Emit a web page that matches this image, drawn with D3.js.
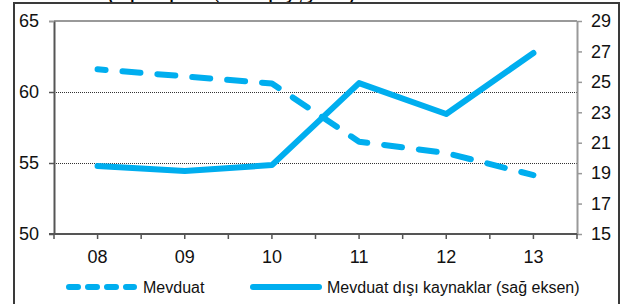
<!DOCTYPE html>
<html>
<head>
<meta charset="utf-8">
<script src="https://cdn.jsdelivr.net/npm/d3@7"></script>
<style>
  body { margin: 0; background: #fff; }
  svg { display: block; font-family: "Liberation Sans", Arial, sans-serif; }
</style>
</head>
<body>
<div id="chart"></div>
<script>
// data
const years = ["08", "09", "10", "11", "12", "13"];
const mevduat = [61.6, 61.1, 60.6, 56.5, 55.7, 54.15];       // left axis
const disiKaynak = [19.47, 19.14, 19.53, 24.92, 22.89, 26.9]; // right axis
const leftTicks = [50, 55, 60, 65];
const rightTicks = [15, 17, 19, 21, 23, 25, 27, 29];
const gridVals = [55, 60];

const W = 630, H = 304;
const blue = "#00aeef";
const plot = { left: 54, right: 577, top: 21, bottom: 234 };

const svg = d3.select("#chart").append("svg")
  .attr("width", W)
  .attr("height", H);

// title, mostly cut off above the frame
svg.append("text")
  .attr("x", 108)
  .attr("y", 0)
  .style("font-size", "15px")
  .style("font-weight", "bold")
  .text("(Toplam pasif içindeki payı, yüzde)");

// outer frame
svg.append("rect")
  .attr("x", 14)
  .attr("y", 3)
  .attr("width", 605)
  .attr("height", 330)
  .attr("fill", "none")
  .attr("stroke", "#3a3a3a")
  .attr("stroke-width", 2);

const x = d3.scaleBand().domain(years).range([plot.left, plot.right]);
const yL = d3.scaleLinear().domain([50, 65]).range([plot.bottom, plot.top]);
const yR = d3.scaleLinear().domain([15, 29]).range([plot.bottom, plot.top]);

// dotted gridlines
svg.append("g")
  .selectAll("line")
  .data(gridVals)
  .enter()
  .append("line")
  .attr("x1", plot.left)
  .attr("x2", plot.right)
  .attr("y1", d => yL(d) + 0.5)
  .attr("y2", d => yL(d) + 0.5)
  .attr("stroke", "#333")
  .attr("stroke-width", 1)
  .attr("stroke-dasharray", "1,1");

// top line at 65
svg.append("line")
  .attr("x1", plot.left)
  .attr("x2", plot.right)
  .attr("y1", yL(65))
  .attr("y2", yL(65))
  .attr("stroke", "#999")
  .attr("stroke-width", 2);

// left axis
const gL = svg.append("g")
  .attr("transform", "translate(" + plot.left + ",0)")
  .call(d3.axisLeft(yL).tickValues(leftTicks).tickSize(5).tickSizeOuter(0).tickPadding(10));
gL.select(".domain").attr("stroke", "#555").attr("stroke-width", 2);
gL.selectAll(".tick line").attr("stroke", d => d === 65 ? "#999" : "#555").attr("stroke-width", d => d === 65 ? 2 : 1.5);
gL.selectAll(".tick text")
  .style("font-size", "18px")
  .style("font-family", "Liberation Sans, Arial, sans-serif")
  .attr("fill", "#111");

// right axis
const gR = svg.append("g")
  .attr("transform", "translate(" + plot.right + ",0)")
  .call(d3.axisRight(yR).tickValues(rightTicks).tickSize(5).tickSizeOuter(0).tickPadding(9));
gR.select(".domain").attr("stroke", "#999").attr("stroke-width", 2);
gR.selectAll(".tick line").attr("stroke", "#999").attr("stroke-width", 1.5);
gR.selectAll(".tick text")
  .style("font-size", "18px")
  .style("font-family", "Liberation Sans, Arial, sans-serif")
  .attr("fill", "#111");

// bottom axis: labels in band centers
const gB = svg.append("g")
  .attr("transform", "translate(0," + plot.bottom + ")")
  .call(d3.axisBottom(x).tickSize(0).tickPadding(16));
gB.select(".domain").remove();
gB.selectAll(".tick text")
  .style("font-size", "18px")
  .style("font-family", "Liberation Sans, Arial, sans-serif")
  .attr("fill", "#111");

// small ticks on band edges and band centers
const half = x.bandwidth() / 2;
const tickXs = [];
years.forEach(d => { tickXs.push(x(d)); tickXs.push(x(d) + half); });
tickXs.push(plot.right);
svg.append("g")
  .selectAll("line")
  .data(tickXs)
  .enter()
  .append("line")
  .attr("x1", d => d)
  .attr("x2", d => d)
  .attr("y1", plot.bottom)
  .attr("y2", plot.bottom + 5)
  .attr("stroke", "#555")
  .attr("stroke-width", 1.5);

svg.append("line")
  .attr("x1", plot.left - 5)
  .attr("x2", plot.right)
  .attr("y1", plot.bottom)
  .attr("y2", plot.bottom)
  .attr("stroke", "#555")
  .attr("stroke-width", 2);

const cx = d => x(d) + half;

// Mevduat (dashed, left axis)
svg.append("path")
  .datum(years)
  .attr("fill", "none")
  .attr("stroke", blue)
  .attr("stroke-width", 6)
  .attr("stroke-linecap", "round")
  .attr("stroke-linejoin", "round")
  .attr("stroke-dasharray", "18,17")
  .attr("stroke-dashoffset", 10)
  .attr("d", d3.line()
    .x(d => cx(d))
    .y((d, i) => yL(mevduat[i])));

// Mevduat dışı kaynaklar (solid, right axis)
svg.append("path")
  .datum(years)
  .attr("fill", "none")
  .attr("stroke", blue)
  .attr("stroke-width", 6)
  .attr("stroke-linecap", "round")
  .attr("stroke-linejoin", "round")
  .attr("d", d3.line()
    .x(d => cx(d))
    .y((d, i) => yR(disiKaynak[i])));

// legend
const legY = 287;
svg.append("line")
  .attr("x1", 69).attr("x2", 134)
  .attr("y1", legY).attr("y2", legY)
  .attr("stroke", blue)
  .attr("stroke-width", 6)
  .attr("stroke-linecap", "round")
  .attr("stroke-dasharray", "9,10");
svg.append("text")
  .attr("x", 143).attr("y", legY + 6)
  .style("font-size", "16px")
  .attr("fill", "#111")
  .text("Mevduat");

svg.append("line")
  .attr("x1", 253).attr("x2", 319)
  .attr("y1", legY).attr("y2", legY)
  .attr("stroke", blue)
  .attr("stroke-width", 6)
  .attr("stroke-linecap", "round");
svg.append("text")
  .attr("x", 327).attr("y", legY + 6)
  .style("font-size", "16px")
  .attr("fill", "#111")
  .text("Mevduat dışı kaynaklar (sağ eksen)");
</script>
</body>
</html>
